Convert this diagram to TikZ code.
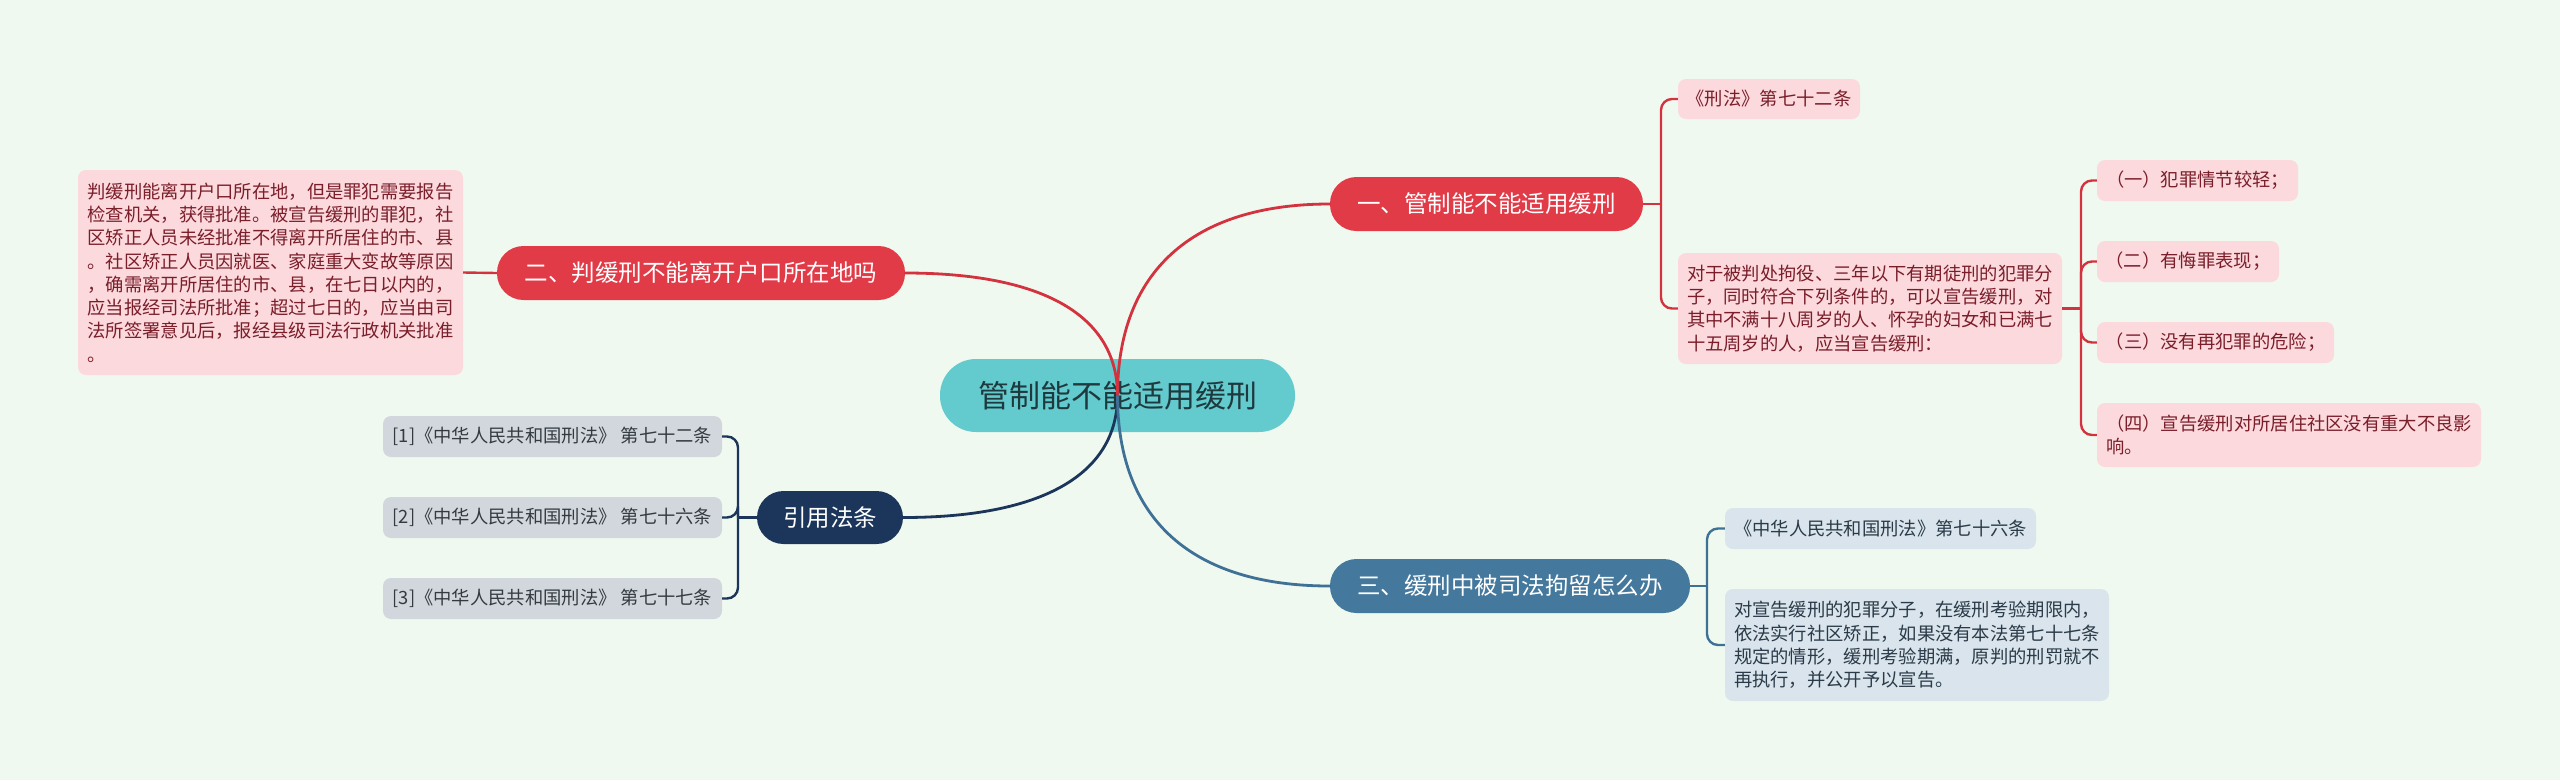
\documentclass[tikz,border=0pt]{standalone}
\usepackage{fontspec}
\newfontfamily\cjk{Noto Sans CJK SC}
\definecolor{bgc}{HTML}{F0F9EF}
\definecolor{rootc}{HTML}{63CACD}
\definecolor{roottext}{HTML}{1F3A3F}
\definecolor{redc}{HTML}{E23B48}
\definecolor{redl}{HTML}{D3323F}
\definecolor{navyc}{HTML}{1B365A}
\definecolor{steelc}{HTML}{44789D}
\definecolor{steell}{HTML}{3F7197}
\definecolor{pinkc}{HTML}{FCD9DD}
\definecolor{pinktext}{HTML}{7A1E2A}
\definecolor{bluegc}{HTML}{D9E4EC}
\definecolor{bluegtext}{HTML}{2B3A48}
\definecolor{greyc}{HTML}{D2D7DE}
\definecolor{greytext}{HTML}{333A40}
\begin{document}
\begin{tikzpicture}[x=1pt,y=-1pt,
  rootn/.style={rectangle, rounded corners=36pt, fill=rootc, text=roottext, minimum width=355pt, minimum height=73pt, inner sep=0pt, font=\cjk\fontsize{31}{36}\selectfont},
  mainn/.style={rectangle, rounded corners=26.5pt, minimum height=54pt, inner sep=0pt, text=white, font=\cjk\fontsize{23.5}{28}\selectfont},
  redn/.style={mainn, fill=redc},
  steeln/.style={mainn, fill=steelc},
  navyn/.style={mainn, fill=navyc},
  leaf/.style={rectangle, rounded corners=8pt, inner sep=0pt, align=left, font=\cjk\fontsize{18.3}{23.3}\selectfont},
  pinkbox/.style={leaf, fill=pinkc, text=pinktext},
  bluebox/.style={leaf, fill=bluegc, text=bluegtext},
  greybox/.style={leaf, fill=greyc, text=greytext},
  mainline/.style={line width=2.8pt, line cap=round},
  subline/.style={line width=2.4pt, rounded corners=11pt}
]
\useasboundingbox (0,0) rectangle (2560,780);
\fill[bgc] (0,0) rectangle (2560,780);

% nodes
\node[rootn] (root) at (1117.5,395.5) {管制能不能适用缓刑};
\node[redn, minimum width=313pt] (n1) at (1486.5,204) {一、管制能不能适用缓刑};
\node[redn, minimum width=408pt] (n2) at (701,273) {二、判缓刑不能离开户口所在地吗};
\node[steeln, minimum width=360pt] (n3) at (1510,586) {三、缓刑中被司法拘留怎么办};
\node[navyn, minimum width=146pt, minimum height=53pt] (n4) at (830,517.5) {引用法条};

\node[pinkbox, minimum width=385pt, minimum height=205pt] (L) at (270.5,272.5) {判缓刑能离开户口所在地，但是罪犯需要报告\\检查机关，获得批准。被宣告缓刑的罪犯，社\\区矫正人员未经批准不得离开所居住的市、县\\。社区矫正人员因就医、家庭重大变故等原因\\，确需离开所居住的市、县，在七日以内的，\\应当报经司法所批准；超过七日的，应当由司\\法所签署意见后，报经县级司法行政机关批准\\。};

\node[greybox, minimum width=339pt, minimum height=41pt] (r1) at (552.5,436.5) {[1]《中华人民共和国刑法》 第七十二条};
\node[greybox, minimum width=339pt, minimum height=41pt] (r2) at (552.5,517.5) {[2]《中华人民共和国刑法》 第七十六条};
\node[greybox, minimum width=339pt, minimum height=41pt] (r3) at (552.5,598.5) {[3]《中华人民共和国刑法》 第七十七条};

\node[pinkbox, minimum width=182pt, minimum height=40pt] (a1) at (1769,99) {《刑法》第七十二条};
\node[pinkbox, minimum width=384pt, minimum height=111pt] (a2) at (1870,308.5) {对于被判处拘役、三年以下有期徒刑的犯罪分\\子，同时符合下列条件的，可以宣告缓刑，对\\其中不满十八周岁的人、怀孕的妇女和已满七\\十五周岁的人，应当宣告缓刑：};

\node[pinkbox, minimum width=201pt, minimum height=41pt] (c1) at (2197.5,180.5) {（一）犯罪情节较轻；};
\node[pinkbox, minimum width=182pt, minimum height=41pt] (c2) at (2188,261.5) {（二）有悔罪表现；};
\node[pinkbox, minimum width=237pt, minimum height=41pt] (c3) at (2215.5,342.5) {（三）没有再犯罪的危险；};
\node[pinkbox, minimum width=384pt, minimum height=64pt] (c4) at (2289,435) {（四）宣告缓刑对所居住社区没有重大不良影\\响。};

\node[bluebox, minimum width=311pt, minimum height=41pt] (b1) at (1880.5,528.5) {《中华人民共和国刑法》第七十六条};
\node[bluebox, minimum width=384pt, minimum height=112pt] (b2) at (1917,645) {对宣告缓刑的犯罪分子，在缓刑考验期限内，\\依法实行社区矫正，如果没有本法第七十七条\\规定的情形，缓刑考验期满，原判的刑罚就不\\再执行，并公开予以宣告。};

% main curves
\draw[mainline, redl] (root.center) .. controls (1117.5,272) and (1192,204) .. (n1.west);
\draw[mainline, redl] (root.center) .. controls (1117.5,315.5) and (1043,273) .. (n2.east);
\draw[mainline, navyc] (root.center) .. controls (1117.5,474.5) and (1042,517.5) .. (n4.east);
\draw[mainline, steell] (root.center) .. controls (1117.5,519.5) and (1192,586) .. (n3.west);

% junctions
\coordinate (j1) at (1661,204);
\coordinate (j2) at (2081,308.5);
\coordinate (j3) at (1707,586);
\coordinate (j4) at (738,517.5);

\draw[subline, redl] (n2.west) -- (L.east);

\draw[subline, redl] (n1.east) -- (j1);
\draw[subline, redl] (j1) |- (a1.west);
\draw[subline, redl] (j1) |- (a2.west);

\draw[subline, redl] (a2.east) -- (j2);
\draw[subline, redl] (j2) |- (c1.west);
\draw[subline, redl] (j2) |- (c2.west);
\draw[subline, redl] (j2) |- (c3.west);
\draw[subline, redl] (j2) |- (c4.west);

\draw[subline, steell] (n3.east) -- (j3);
\draw[subline, steell] (j3) |- (b1.west);
\draw[subline, steell] (j3) |- (b2.west);

\draw[subline, navyc] (n4.west) -- (j4);
\draw[subline, navyc] (j4) |- (r1.east);
\draw[subline, navyc] (j4) |- (r2.east);
\draw[subline, navyc] (j4) |- (r3.east);
\end{tikzpicture}
\end{document}
